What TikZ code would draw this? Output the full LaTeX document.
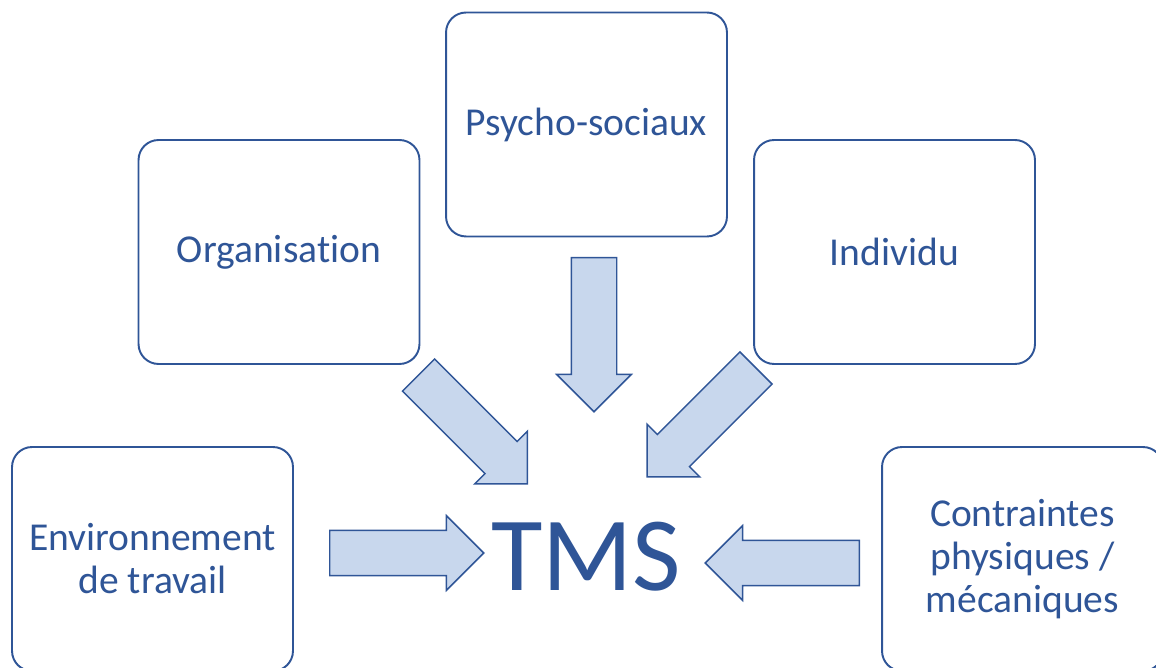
\documentclass[tikz,border=0pt]{standalone}
\usepackage{fontspec}
\setmainfont{Carlito}[RawFeature=-liga]
\usetikzlibrary{shapes.arrows}
\definecolor{tmsblue}{RGB}{47,85,151}
\definecolor{tmslight}{RGB}{200,215,237}
\newcommand{\bt}{\fontsize{22.5}{24.5}\selectfont}

\begin{document}
\begin{tikzpicture}[x=0.02cm,y=0.02cm,
  box/.style={draw=tmsblue,line width=1.1pt,rounded corners=0.4cm,
    minimum width=5.62cm,minimum height=4.48cm,align=center,
    text=tmsblue,font=\bt},
  flow/.style={single arrow,draw=tmsblue,fill=tmslight,line width=0.85pt,
    inner sep=0.44cm,minimum height=3.08cm,
    single arrow head extend=0.29cm,anchor=tail}]
  \useasboundingbox (0,0) rectangle (1156,-668);
  \clip (0,0) rectangle (1156,-668);
  % the five boxes
  \node[box] (env) at ( 152.5,-559.0) {Environnement\\de travail};
  \node[box] (org) at ( 279.0,-252.0) {Organisation};
  \node[box] (psy) at ( 586.5,-124.5) {Psycho-sociaux};
  \node[box] (ind) at ( 894.5,-252.0) {Individu};
  \node[box] (con) at (1022.5,-559.0) {Contraintes\\physiques /\\mécaniques};
  % centre
  \node[text=tmsblue,font=\fontsize{60}{66}\selectfont,anchor=base]
    (tms) at (586,-590) {TMS};
  % arrows
  \node[flow]               (fenv) at (329.0,-553.0) {};
  \node[flow,rotate=-45]    (forg) at (418.0,-374.5) {};
  \node[flow,rotate=-90]    (fpsy) at (594.0,-257.0) {};
  \node[flow,rotate=-135]   (find) at (756.5,-367.5) {};
  \node[flow,rotate=180]    (fcon) at (860.0,-563.0) {};
\end{tikzpicture}
\end{document}
